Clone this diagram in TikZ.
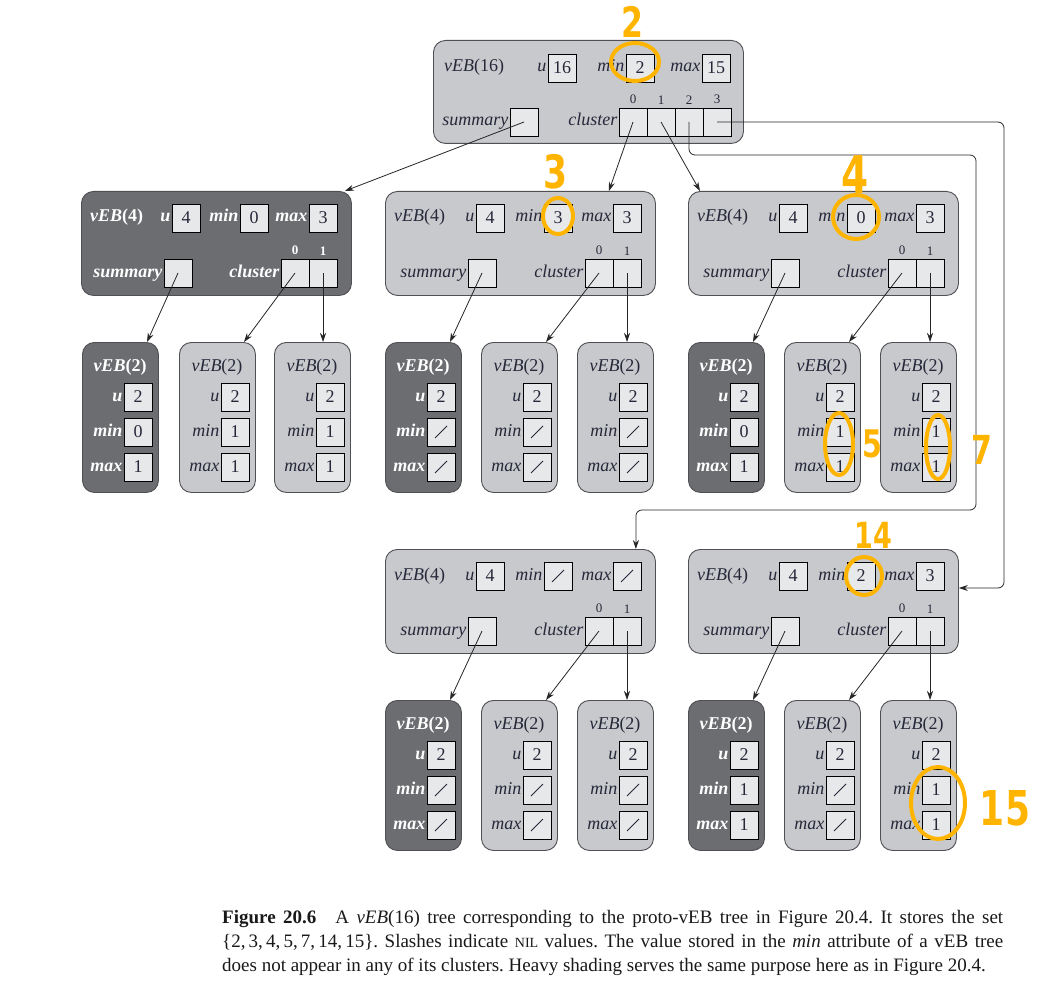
\documentclass[tikz,border=0pt]{standalone}
\usepackage{fontspec}
\usepackage{graphicx}
\setmainfont{Liberation Serif}
\newfontfamily\handfont{DejaVu Sans}
\usetikzlibrary{arrows.meta,positioning,calc}
\definecolor{ink}{RGB}{38,40,58}
\definecolor{lite}{RGB}{200,201,204}
\definecolor{dark}{RGB}{108,109,113}
\definecolor{cell}{RGB}{231,232,233}
\definecolor{rim}{RGB}{80,80,84}
\definecolor{pen}{RGB}{255,180,0}
\newcommand{\lblsize}{\fontsize{18}{20}\selectfont}
\newcommand{\idxsize}{\fontsize{13}{14}\selectfont}
\newcommand{\penmark}[1]{\scalebox{0.75}[1]{#1}}
\tikzset{
  light/.style={draw=rim,fill=lite,rounded corners=12pt,line width=0.9pt,inner sep=0pt},
  heavy/.style={light,fill=dark},
  lighttxt/.style={text=ink,font=\lblsize\itshape,inner sep=1pt,text height=12pt,text depth=4pt},
  heavytxt/.style={text=white,font=\lblsize\bfseries\itshape,inner sep=1pt,text height=12pt,text depth=4pt},
  lightidx/.style={text=ink,font=\idxsize},
  heavyidx/.style={text=white,font=\idxsize\bfseries},
  val/.style={draw=black,fill=cell,minimum size=28pt,inner sep=0pt,line width=0.8pt,
    font=\lblsize,text=ink},
  nil/.style={val,path picture={\draw[ink,line width=0.8pt]
    ([shift={(8pt,8pt)}]path picture bounding box.south west) --
    ([shift={(-8pt,-8pt)}]path picture bounding box.north east);}},
  arr/.style={-{Stealth[length=9pt,width=6pt]},line width=0.8pt,black!85},
  ring/.style={draw=pen,line width=4pt},
  hand/.style={text=pen,font=\handfont\bfseries\fontsize{#1}{#1}\selectfont,inner sep=0pt},
  caption/.style={text width=781pt,align=justify,inner sep=0pt,text=black!90,
    font=\fontsize{19}{24}\selectfont\frenchspacing},
}
% vEB(4): name, x, y, kind, min style, min, max style, max
\newcommand{\vebfour}[8]{%
  \node[#4,minimum width=270pt,minimum height=104pt,anchor=north west] (#1) at (#2,#3) {};
  \node[#4txt,anchor=west] (#1-t) at ($(#1.north west)+(8,27)$) {vEB\textup{(4)}};
  \node[val] (#1-u) at ($(#1.north west)+(105,27)$) {4};
  \node[#5] (#1-min) at ($(#1.north west)+(173,27)$) {#6};
  \node[#7] (#1-max) at ($(#1.north west)+(242,27)$) {#8};
  \node[val] (#1-sum) at ($(#1.north west)+(97,82)$) {};
  \node[val] (#1-c0) at ($(#1.north west)+(214,82)$) {};
  \node[val] (#1-c1) at ($(#1.north west)+(242,82)$) {};
  \node[#4txt,left=0pt of #1-u] (#1-ul) {u};
  \node[#4txt,left=0pt of #1-min] (#1-minl) {min};
  \node[#4txt,left=0pt of #1-max] (#1-maxl) {max};
  \node[#4txt,left=0pt of #1-sum] (#1-suml) {summary};
  \node[#4txt,left=0pt of #1-c0] (#1-cl) {cluster};
  \node[#4idx,above=0pt of #1-c0] (#1-i0) {0};
  \node[#4idx,above=0pt of #1-c1] (#1-i1) {1};
}
% vEB(2): name, x, y, kind, min style, min, max style, max
\newcommand{\vebtwo}[8]{%
  \node[#4,minimum width=76pt,minimum height=150pt,anchor=north west] (#1) at (#2,#3) {};
  \node[#4txt] (#1-t) at ($(#1.north west)+(38,25)$) {vEB\textup{(2)}};
  \node[val] (#1-u) at ($(#1.north west)+(56,55)$) {2};
  \node[#5] (#1-min) at ($(#1.north west)+(56,90)$) {#6};
  \node[#7] (#1-max) at ($(#1.north west)+(56,125)$) {#8};
  \node[#4txt,left=0pt of #1-u] (#1-ul) {u};
  \node[#4txt,left=0pt of #1-min] (#1-minl) {min};
  \node[#4txt,left=0pt of #1-max] (#1-maxl) {max};
}

\begin{document}
\begin{tikzpicture}[x=1pt,y=-1pt]
  \useasboundingbox (0,0) rectangle (1060,995);
  \fill[white] (0,0) rectangle (1060,995);

  % root
  \node[light,minimum width=310pt,minimum height=103pt,anchor=north west] (T) at (433,40) {};
  \node[lighttxt,anchor=west] (T-t) at ($(T.north west)+(10,28)$) {vEB\textup{(16)}};
  \node[val] (T-u) at ($(T.north west)+(129,28)$) {16};
  \node[val] (T-min) at ($(T.north west)+(207,28)$) {2};
  \node[val] (T-max) at ($(T.north west)+(283,28)$) {15};
  \node[val] (T-sum) at ($(T.north west)+(91,82)$) {};
  \foreach \i in {0,...,3}{
    \node[val] (T-c\i) at ($(T.north west)+(200+28*\i,82)$) {};
    \node[lightidx,above=0pt of T-c\i] (T-i\i) {\i};
  }
  \node[lighttxt,left=0pt of T-u] (T-ul) {u};
  \node[lighttxt,left=0pt of T-min] (T-minl) {min};
  \node[lighttxt,left=0pt of T-max] (T-maxl) {max};
  \node[lighttxt,left=0pt of T-sum] (T-suml) {summary};
  \node[lighttxt,left=0pt of T-c0] (T-cl) {cluster};

  % vEB(4) level
  \vebfour{A}{81}{191}{heavy}{val}{0}{val}{3}
  \vebfour{B}{385}{191}{light}{val}{3}{val}{3}
  \vebfour{C}{688}{191}{light}{val}{0}{val}{3}
  \vebfour{D}{385}{549}{light}{nil}{}{nil}{}
  \vebfour{E}{688}{549}{light}{val}{2}{val}{3}

  % vEB(2) level
  \vebtwo{A0}{82}{342}{heavy}{val}{0}{val}{1}
  \vebtwo{A1}{179}{342}{light}{val}{1}{val}{1}
  \vebtwo{A2}{274}{342}{light}{val}{1}{val}{1}
  \vebtwo{B0}{385}{342}{heavy}{nil}{}{nil}{}
  \vebtwo{B1}{481}{342}{light}{nil}{}{nil}{}
  \vebtwo{B2}{577}{342}{light}{nil}{}{nil}{}
  \vebtwo{C0}{688}{342}{heavy}{val}{0}{val}{1}
  \vebtwo{C1}{784}{342}{light}{val}{1}{val}{1}
  \vebtwo{C2}{880}{342}{light}{val}{1}{val}{1}
  \vebtwo{D0}{385}{700}{heavy}{nil}{}{nil}{}
  \vebtwo{D1}{481}{700}{light}{nil}{}{nil}{}
  \vebtwo{D2}{577}{700}{light}{nil}{}{nil}{}
  \vebtwo{E0}{688}{700}{heavy}{val}{1}{val}{1}
  \vebtwo{E1}{784}{700}{light}{nil}{}{nil}{}
  \vebtwo{E2}{880}{700}{light}{val}{1}{val}{1}

  % pointers
  \draw[arr] (T-sum.center) -- ($(A.north east)+(-7,0)$);
  \draw[arr] (T-c0.center) -- ($(B.north east)+(-47,0)$);
  \draw[arr] (T-c1.center) -- ($(C.north west)+(12,0)$);
  \coordinate (railA) at (976,155);
  \coordinate (railB) at (976,510);
  \coordinate (railC) at (1004,588);
  \draw[arr,rounded corners=6pt] (T-c2.center) |- (railA) -- (railB) -| ($(D.north east)+(-20,0)$);
  \draw[arr,rounded corners=6pt] (T-c3.center) -| (railC) -- ($(E.north east)+(0,39)$);
  \foreach \p in {A,B,C,D,E}{
    \draw[arr] (\p-sum.center) -- ($(\p0.north west)+(65,0)$);
    \draw[arr] (\p-c0.center) -- ($(\p1.north west)+(65,0)$);
    \draw[arr] (\p-c1.center) -- (\p-c1.center |- \p2.north);
  }

  % caption
  \node[caption,anchor=north west] (cap) at (222,910)
    {\textbf{Figure 20.6}\quad A \textit{vEB}(16) tree corresponding to the proto-vEB tree in Figure 20.4. It stores the set\linebreak
     \{2,\,3,\,4,\,5,\,7,\,14,\,15\}. Slashes indicate {\fontsize{14}{14}\selectfont NIL} values. The value stored in the \textit{min} attribute of a vEB tree\linebreak
     does not appear in any of its clusters. Heavy shading serves the same purpose here as in Figure 20.4.};

  % pen marks
  \draw[ring] (635,62) ellipse [x radius=24, y radius=19];
  \draw[ring] (558,216) ellipse [x radius=15, y radius=18];
  \draw[ring] (856,217) ellipse [x radius=23, y radius=22];
  \draw[ring] (839,444) ellipse [x radius=14, y radius=31];
  \draw[ring] (938,447) ellipse [x radius=12, y radius=32];
  \draw[ring] (864,576) ellipse [x radius=18, y radius=19];
  \draw[ring] (938,803) ellipse [x radius=27, y radius=36];
  \node[hand=42] (n2) at (632,22) {\penmark{2}};
  \node[hand=46] (n3) at (555,172) {\penmark{3}};
  \node[hand=52] (n4) at (855,175) {\penmark{4}};
  \node[hand=38] (n5) at (872,444) {\penmark{5}};
  \node[hand=40] (n7) at (982,450) {\penmark{7}};
  \node[hand=36] (n14) at (873,535) {\penmark{14}};
  \node[hand=48] (n15) at (1005,808) {\penmark{15}};
\end{tikzpicture}
\end{document}
